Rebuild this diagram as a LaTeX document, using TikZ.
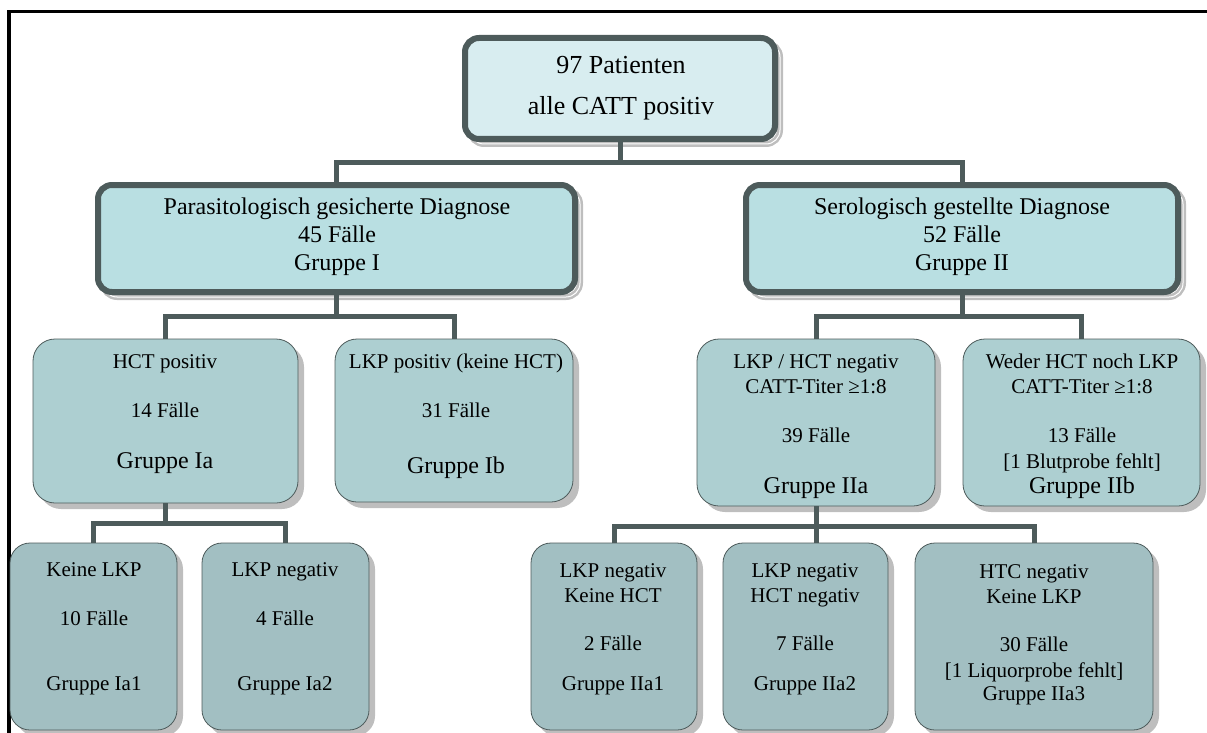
\documentclass[tikz,border=0pt]{standalone}
\usepackage{fontspec}
\setmainfont{Liberation Serif}
\usetikzlibrary{shadows}
\definecolor{conn}{RGB}{77,91,91}
\definecolor{fillA}{RGB}{216,237,240}
\definecolor{fillB}{RGB}{185,223,226}
\definecolor{fillC}{RGB}{173,207,209}
\definecolor{fillD}{RGB}{162,191,194}
\definecolor{shad}{RGB}{190,190,190}
\newcommand\tx[4]{\node[#1] (#2) at (#3) {#4};}
\begin{document}
\begin{tikzpicture}[x=1pt,y=-1pt,
  thickbox/.style={draw=conn, line width=6pt, rounded corners=14pt, inner sep=0pt, outer sep=0pt,
    general shadow={shadow xshift=5pt, shadow yshift=-5pt, draw=shad, double=white, double distance=1pt, line width=2.5pt, fill=none}},
  thinbox/.style={draw=conn, line width=0.8pt, rounded corners=22pt, inner sep=0pt, outer sep=0pt,
    general shadow={shadow xshift=6pt, shadow yshift=-6pt, fill=shad, draw=none}},
  cn/.style={draw=conn, line width=5pt},
  t26/.style={anchor=base, inner sep=0pt, font=\fontsize{26}{30}\selectfont},
  t24/.style={anchor=base, inner sep=0pt, font=\fontsize{24}{28}\selectfont},
  t21/.style={anchor=base, inner sep=0pt, font=\fontsize{21}{25}\selectfont}]
\useasboundingbox (0,0) rectangle (1207,733);

% frame
\coordinate (fr1) at (1207,11.5);
\coordinate (fr2) at (8.8,11.5);
\coordinate (fr3) at (8.8,733);
\draw[line width=3.5pt] (fr1) -- (fr2) -- (fr3);

% level 1 and 2
\node[thickbox, fill=fillA, minimum width=310pt, minimum height=101pt] (top) at (620,88.5) {};
\node[thickbox, fill=fillB, minimum width=477pt, minimum height=107pt] (l2l) at (336.5,238.5) {};
\node[thickbox, fill=fillB, minimum width=432pt, minimum height=107pt] (l2r) at (962,238.5) {};

% level 3
\node[thinbox, fill=fillC, minimum width=265pt, minimum height=164pt] (l3a) at (165.5,421) {};
\node[thinbox, fill=fillC, minimum width=238pt, minimum height=163pt] (l3b) at (454,420.5) {};
\node[thinbox, fill=fillC, minimum width=238pt, minimum height=167pt] (l3c) at (816,422.5) {};
\node[thinbox, fill=fillC, minimum width=237pt, minimum height=167pt] (l3d) at (1081.5,422.5) {};

% level 4
\node[thinbox, rounded corners=20pt, fill=fillD, minimum width=167pt, minimum height=187pt] (l4a) at (93.5,636.5) {};
\node[thinbox, rounded corners=20pt, fill=fillD, minimum width=167pt, minimum height=187pt] (l4b) at (285.5,636.5) {};
\node[thinbox, rounded corners=20pt, fill=fillD, minimum width=166pt, minimum height=187pt] (l4c) at (614,636.5) {};
\node[thinbox, rounded corners=20pt, fill=fillD, minimum width=165pt, minimum height=187pt] (l4d) at (805.5,636.5) {};
\node[thinbox, rounded corners=20pt, fill=fillD, minimum width=238pt, minimum height=187pt] (l4e) at (1034,636.5) {};

% connectors
\coordinate (j1) at (620,162);
\coordinate (j2) at (336.5,316.5);
\coordinate (j3) at (962,316.5);
\coordinate (j4) at (165.5,523);
\coordinate (j5) at (816,526);
\draw[cn] (top.south) -- (top.south |- j1);
\draw[cn] (l2l.north) |- (j1) -| (l2r.north);
\draw[cn] (l2l.south) -- (l2l.south |- j2);
\draw[cn] (l3a.north) |- (j2) -| (l3b.north);
\draw[cn] (l2r.south) -- (l2r.south |- j3);
\draw[cn] (l3c.north) |- (j3) -| (l3d.north);
\draw[cn] (l3a.south) -- (l3a.south |- j4);
\draw[cn] (l4a.north) |- (j4) -| (l4b.north);
\draw[cn] (l3c.south) -- (l3c.south |- l4d.north);
\draw[cn] (l4c.north) |- (j5) -| (l4e.north);

% texts
\tx{t26}{ta1}{621,74}{97 Patienten}
\tx{t26}{ta2}{621,115}{alle CATT positiv}

\tx{t24}{tb1}{337,214}{Parasitologisch gesicherte Diagnose}
\tx{t24}{tb2}{337,242}{45 Fälle}
\tx{t24}{tb3}{337,270}{Gruppe I}

\tx{t24}{tc1}{962,214}{Serologisch gestellte Diagnose}
\tx{t24}{tc2}{962,242}{52 Fälle}
\tx{t24}{tc3}{962,270}{Gruppe II}

\tx{t21}{td1}{165,368}{HCT positiv}
\tx{t21}{td2}{165,417}{14 Fälle}
\tx{t24}{td3}{165,468}{Gruppe Ia}

\tx{t21}{te1}{456,368}{LKP positiv (keine HCT)}
\tx{t21}{te2}{456,417}{31 Fälle}
\tx{t24}{te3}{456,473}{Gruppe Ib}

\tx{t21}{tf1}{816,368}{LKP / HCT negativ}
\tx{t21}{tf2}{816,393}{CATT-Titer ≥1:8}
\tx{t21}{tf3}{816,442}{39 Fälle}
\tx{t24}{tf4}{816,493}{Gruppe IIa}

\tx{t21}{tg1}{1082,368}{Weder HCT noch LKP}
\tx{t21}{tg2}{1082,393}{CATT-Titer ≥1:8}
\tx{t21}{tg3}{1082,442}{13 Fälle}
\tx{t21}{tg4}{1082,468}{[1 Blutprobe fehlt]}
\tx{t24}{tg5}{1082,493}{Gruppe IIb}

\tx{t21}{th1}{94,576}{Keine LKP}
\tx{t21}{th2}{94,625}{10 Fälle}
\tx{t21}{th3}{94,690}{Gruppe Ia1}

\tx{t21}{ti1}{285,576}{LKP negativ}
\tx{t21}{ti2}{285,625}{4 Fälle}
\tx{t21}{ti3}{285,690}{Gruppe Ia2}

\tx{t21}{tj1}{613,577}{LKP negativ}
\tx{t21}{tj2}{613,602}{Keine HCT}
\tx{t21}{tj3}{613,650}{2 Fälle}
\tx{t21}{tj4}{613,690}{Gruppe IIa1}

\tx{t21}{tk1}{805,577}{LKP negativ}
\tx{t21}{tk2}{805,602}{HCT negativ}
\tx{t21}{tk3}{805,650}{7 Fälle}
\tx{t21}{tk4}{805,690}{Gruppe IIa2}

\tx{t21}{tl1}{1034,578}{HTC negativ}
\tx{t21}{tl2}{1034,603}{Keine LKP}
\tx{t21}{tl3}{1034,651}{30 Fälle}
\tx{t21}{tl4}{1034,677}{[1 Liquorprobe fehlt]}
\tx{t21}{tl5}{1034,700}{Gruppe IIa3}
\end{tikzpicture}
\end{document}
